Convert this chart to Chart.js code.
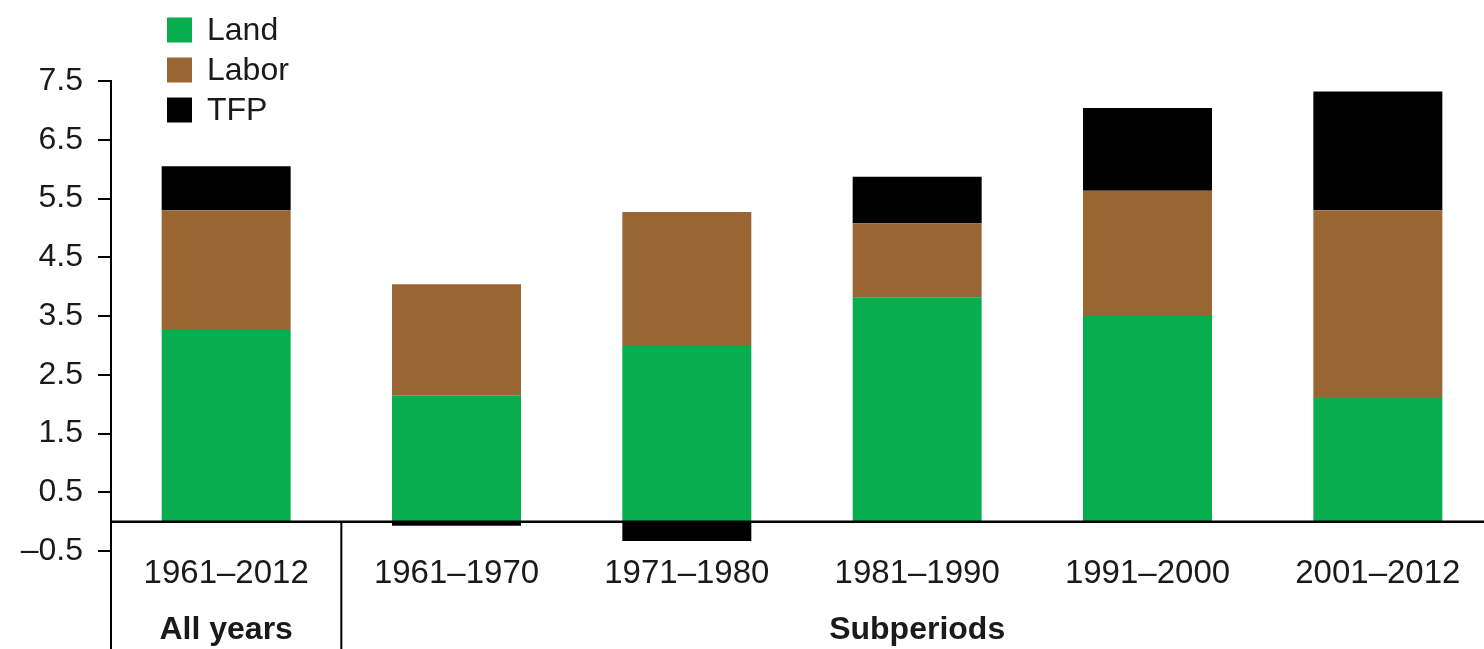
<!DOCTYPE html>
<html>
<head>
<meta charset="utf-8">
<script src="https://cdn.jsdelivr.net/npm/chart.js@4/dist/chart.umd.min.js"></script>
<style>
  html, body { margin: 0; padding: 0; background: #fff; overflow: hidden; }
  #wrap { width: 1484px; height: 649px; overflow: hidden; }
</style>
</head>
<body>
<div id="wrap"><canvas id="chart" width="1493" height="649"></canvas></div>
<script>
const periods = ["1961\u20132012", "1961\u20131970", "1971\u20131980", "1981\u20131990", "1991\u20132000", "2001\u20132012"];
const land = [3.26, 2.15, 2.99, 3.82, 3.50, 2.12];
const labor = [2.04, 1.89, 2.28, 1.26, 2.13, 3.18];
const tfp = [0.75, -0.07, -0.33, 0.79, 1.41, 2.02];
const yTicks = [-0.5, 0.5, 1.5, 2.5, 3.5, 4.5, 5.5, 6.5, 7.5];
const groups = [
  { label: "All years", from: 0, to: 0 },
  { label: "Subperiods", from: 1, to: 5 },
];

const FONT = "'Liberation Sans Narrow', 'Liberation Sans', Arial, sans-serif";
const INK = "#1a1a1a";

// zero line, group dividers, group labels and the legend
const extras = {
  id: "extras",
  afterDraw(chart) {
    const { ctx, chartArea } = chart;
    const x = chart.scales.x;
    const y = chart.scales.y;
    const y0 = y.getPixelForValue(0);
    const H = chart.height;

    ctx.save();
    ctx.strokeStyle = "#000";
    ctx.lineWidth = 2.5;
    ctx.beginPath();
    ctx.moveTo(chartArea.left, y0);
    ctx.lineTo(chart.width, y0);
    ctx.stroke();

    ctx.lineWidth = 2;
    ctx.beginPath();
    ctx.moveTo(chartArea.left, chartArea.bottom);
    ctx.lineTo(chartArea.left, H);
    const div = (x.getPixelForValue(0) + x.getPixelForValue(1)) / 2;
    ctx.moveTo(div, y0);
    ctx.lineTo(div, H);
    ctx.stroke();

    ctx.fillStyle = INK;
    ctx.font = "bold 32px " + FONT;
    ctx.textAlign = "center";
    ctx.textBaseline = "middle";
    groups.forEach((g) => {
      const cx = (x.getPixelForValue(g.from) + x.getPixelForValue(g.to)) / 2;
      ctx.fillText(g.label, cx, 630);
    });

    ctx.font = "32px " + FONT;
    ctx.textAlign = "left";
    chart.data.datasets.forEach((ds, i) => {
      const cy = 30 + i * 40;
      ctx.fillStyle = ds.backgroundColor;
      ctx.fillRect(167, cy - 12.5, 25, 25);
      ctx.fillStyle = INK;
      ctx.fillText(ds.label, 207, cy + 1);
    });
    ctx.restore();
  },
};

new Chart(document.getElementById("chart"), {
  type: "bar",
  data: {
    labels: periods,
    datasets: [
      { label: "Land", data: land, backgroundColor: "#07ad4f" },
      { label: "Labor", data: labor, backgroundColor: "#996633" },
      { label: "TFP", data: tfp, backgroundColor: "#000000" },
    ],
  },
  options: {
    responsive: false,
    devicePixelRatio: 1,
    animation: false,
    layout: { padding: { top: 81, left: 1, right: 0, bottom: 0 } },
    plugins: { legend: { display: false }, tooltip: { enabled: false } },
    datasets: { bar: { categoryPercentage: 1, barPercentage: 0.56 } },
    scales: {
      x: {
        stacked: true,
        grid: { display: false, drawTicks: false },
        border: { display: false },
        ticks: { color: INK, font: { family: FONT, size: 33 }, padding: 3, maxRotation: 0, autoSkip: false },
        afterFit(scale) { scale.height = 98; },
      },
      y: {
        stacked: true,
        min: -0.5,
        max: 7.5,
        afterBuildTicks(scale) { scale.ticks = yTicks.map((v) => ({ value: v })); },
        afterFit(scale) { scale.width = 110; },
        grid: { drawOnChartArea: false, drawTicks: true, tickLength: 13, color: "#000", lineWidth: 2 },
        border: { display: true, color: "#000", width: 2 },
        ticks: {
          color: INK,
          font: { family: FONT, size: 32 },
          padding: 15,
          callback: (v) => (v < 0 ? "\u2013" + Math.abs(v).toFixed(1) : v.toFixed(1)),
        },
      },
    },
  },
  plugins: [extras],
});
</script>
</body>
</html>
